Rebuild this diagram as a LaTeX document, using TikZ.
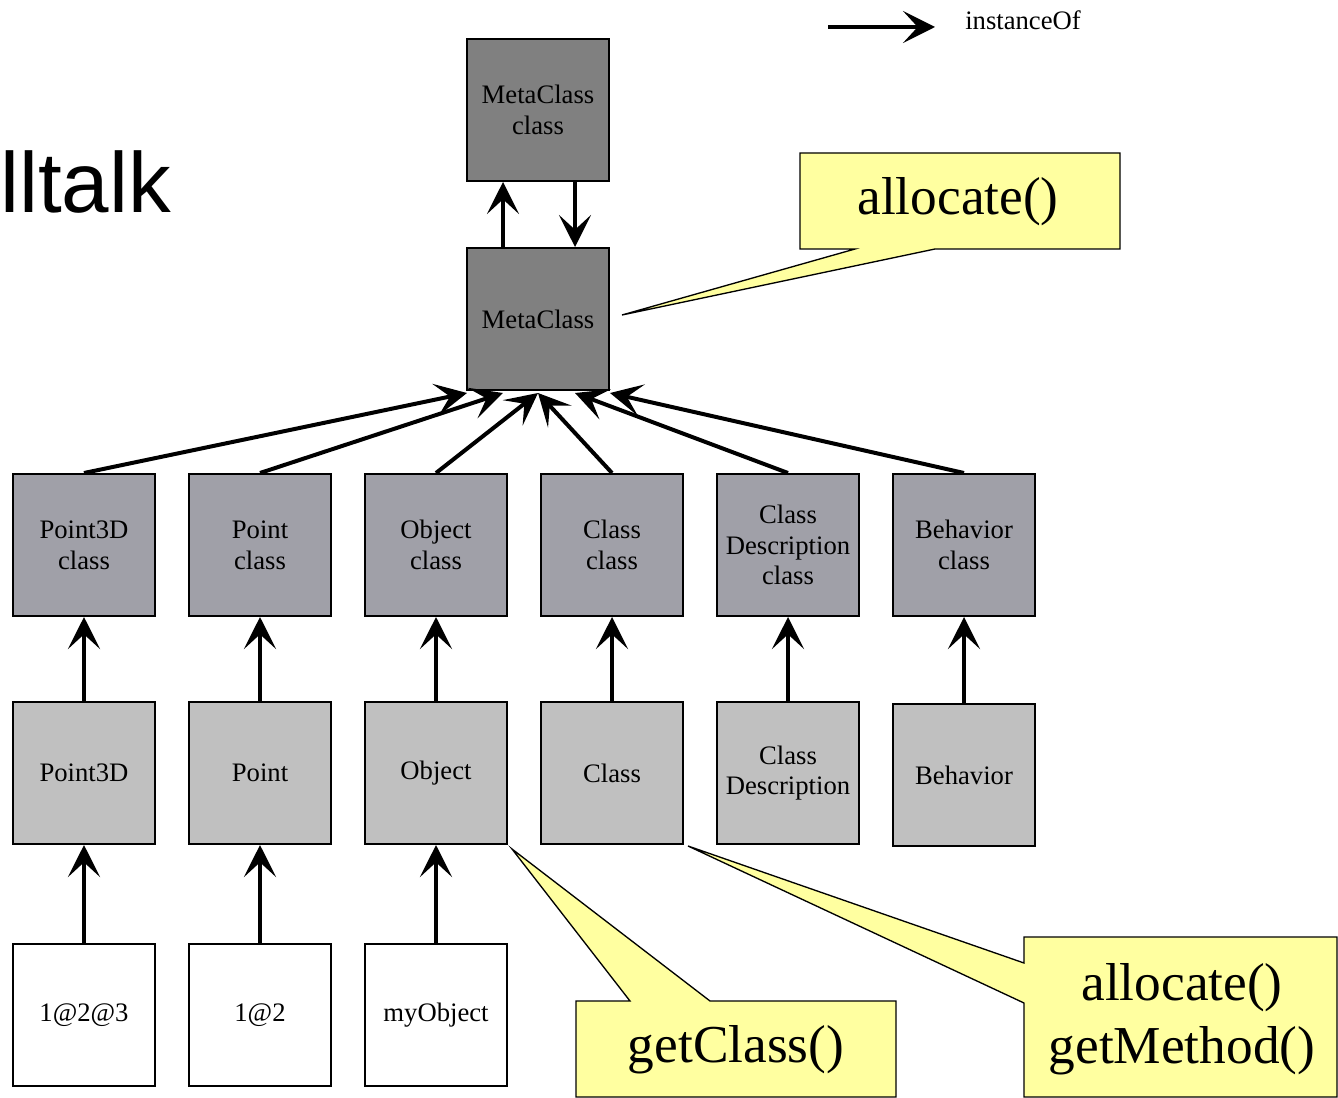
\documentclass[tikz,border=0pt]{standalone}
\usepackage{fontspec}
\setmainfont{Liberation Serif}
\setsansfont{Liberation Sans}
\usetikzlibrary{arrows.meta,calc}
\definecolor{metagray}{RGB}{128,128,128}
\definecolor{classgray}{RGB}{160,160,168}
\definecolor{lightgray}{RGB}{192,192,192}
\definecolor{noteyellow}{RGB}{255,255,160}
\tikzset{
  box/.style={draw,line width=1.5pt,minimum size=106.5pt,inner sep=0pt,align=center,
    font=\fontsize{20}{23}\selectfont},
  inst/.style={line width=3pt,-{Stealth[length=24pt,width=24pt,inset=11pt]}},
  note/.style={draw,line width=1pt,fill=noteyellow},
  notetext/.style={font=\fontsize{40}{47}\selectfont,align=center}
}
\begin{document}
\begin{tikzpicture}[x=0.75pt,y=-0.75pt]
\useasboundingbox (0,0) rectangle (1338,1098);
% title and legend
\node[anchor=base west,inner sep=0pt,font=\sffamily\fontsize{64}{70}\selectfont] (title) at (0,213) {lltalk};
\coordinate (legA) at (828,27);
\coordinate (legB) at (935,27);
\draw[inst] (legA) -- (legB);
\node[anchor=base west,inner sep=0pt,font=\fontsize{20}{23}\selectfont] (legend) at (965,30) {instanceOf};
% metaclass level
\node[box,fill=metagray] (metacc) at (538,110) {MetaClass\\class};
\node[box,fill=metagray] (meta) at (538,319) {MetaClass};
% class level
\node[box,fill=classgray] (ptdc) at (84,545) {Point3D\\class};
\node[box,fill=classgray] (ptc) at (260,545) {Point\\class};
\node[box,fill=classgray] (objc) at (436,545) {Object\\class};
\node[box,fill=classgray] (clsc) at (612,545) {Class\\class};
\node[box,fill=classgray] (cdc) at (788,545) {Class\\Description\\class};
\node[box,fill=classgray] (behc) at (964,545) {Behavior\\class};
% classes
\node[box,fill=lightgray] (ptd) at (84,773) {Point3D};
\node[box,fill=lightgray] (pt) at (260,773) {Point};
\node[box,fill=lightgray] (obj) at (436,773) {Object};
\node[box,fill=lightgray] (cls) at (612,773) {Class};
\node[box,fill=lightgray] (cd) at (788,773) {Class\\Description};
\node[box,fill=lightgray] (beh) at (964,775) {Behavior};
% instances
\node[box,fill=white] (p123) at (84,1015) {1@2@3};
\node[box,fill=white] (p12) at (260,1015) {1@2};
\node[box,fill=white] (myobj) at (436,1015) {myObject};
% instanceOf arrows
\draw[inst] ($(meta.north)+(-35,0)$) -- ($(metacc.south)+(-35,0)$);
\draw[inst] ($(metacc.south)+(37,0)$) -- ($(meta.north)+(37,0)$);
\draw[inst] (ptdc.north) -- ($(meta.south)+(-71,2)$);
\draw[inst] (ptc.north) -- ($(meta.south)+(-35,2)$);
\draw[inst] (objc.north) -- ($(meta.south)+(0,2)$);
\draw[inst] (clsc.north) -- ($(meta.south)+(0,2)$);
\draw[inst] (cdc.north) -- ($(meta.south)+(37,2)$);
\draw[inst] (behc.north) -- ($(meta.south)+(72,2)$);
\draw[inst] (ptd) -- (ptdc);
\draw[inst] (pt) -- (ptc);
\draw[inst] (obj) -- (objc);
\draw[inst] (cls) -- (clsc);
\draw[inst] (cd) -- (cdc);
\draw[inst] (beh) -- (behc);
\draw[inst] (p123) -- (ptd);
\draw[inst] (p12) -- (pt);
\draw[inst] (myobj) -- (obj);
% callouts
\coordinate (tipA) at (622,315);
\coordinate (tipB) at (512,849);
\coordinate (tipC) at (688,846);
\draw[note] (800,153) -- (1120,153) -- (1120,249) -- (935,249) -- (tipA) -- (855,249) -- (800,249) -- cycle;
\node[notetext] (allocA) at (958,202) {allocate()};
\draw[note] (576,1001) -- (630,1001) -- (tipB) -- (710,1001) -- (896,1001) -- (896,1097) -- (576,1097) -- cycle;
\node[notetext] (getcls) at (736,1050) {getClass()};
\draw[note] (1024,937) -- (1337,937) -- (1337,1097) -- (1024,1097) -- (1024,1003) -- (tipC) -- (1024,963) -- cycle;
\node[notetext] (allocB) at (1182,1019) {allocate()\\getMethod()};
\end{tikzpicture}
\end{document}
